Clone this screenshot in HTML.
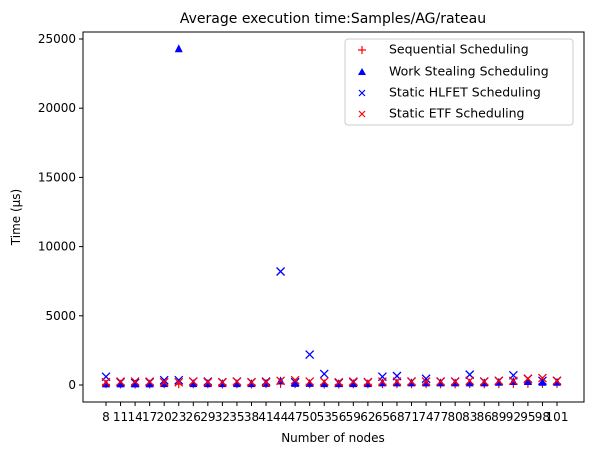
<!DOCTYPE html>
<html><head><meta charset="utf-8"><style>
body{margin:0;background:#fff;font-family:"Liberation Sans","DejaVu Sans",sans-serif;}
svg text{font-family:"DejaVu Sans","Liberation Sans",sans-serif;}
</style></head><body>
<svg id="chart" width="592" height="455" xmlns="http://www.w3.org/2000/svg">
<rect width="592" height="455" fill="#fff"/>
<text x="333" y="23" font-size="14" text-anchor="middle">Average execution time:Samples/AG/rateau</text>
<g id="marks"></g>
<rect x="83" y="32" width="501" height="370" fill="none" stroke="#000" stroke-width="1"/>
<g id="axes"></g>
<text x="333" y="442" font-size="12" text-anchor="middle">Number of nodes</text>
<text transform="translate(20,217) rotate(-90)" font-size="12" text-anchor="middle">Time (µs)</text>
<g>
<rect x="345" y="39" width="228" height="86" fill="#fff" fill-opacity="0.8" stroke="#ccc" rx="3"/>
<path d="M358,50 L366,50 M362,46 L362,54" stroke="red" stroke-width="1.2"/>
<text x="389" y="50" font-size="12.5" dominant-baseline="middle">Sequential Scheduling</text>
<polygon points="362,68 358,75 366,75" fill="blue"/>
<text x="389" y="72" font-size="12.5" dominant-baseline="middle">Work Stealing Scheduling</text>
<path d="M359,90 L365,96 M365,90 L359,96" stroke="blue" stroke-width="1.2"/>
<text x="389" y="93" font-size="12.5" dominant-baseline="middle">Static HLFET Scheduling</text>
<path d="M359,111 L365,117 M365,111 L359,117" stroke="red" stroke-width="1.2"/>
<text x="389" y="114" font-size="12.5" dominant-baseline="middle">Static ETF Scheduling</text>
</g>
</svg>
<script>
const categories=[8,11,14,17,20,23,26,29,32,35,38,41,44,47,50,53,56,59,62,65,68,71,74,77,80,83,86,89,92,95,98,101];
const sequential=[50,40,40,40,50,60,50,50,40,50,40,50,80,60,50,40,40,50,50,60,60,50,60,50,50,60,50,60,80,80,80,80];
const workStealing=[80,80,80,80,100,24300,100,100,100,100,100,120,300,120,120,100,100,100,100,150,150,150,150,150,150,150,150,200,250,250,200,200];
const hlfet=[600,200,150,200,350,350,250,250,200,250,200,250,8200,200,2200,800,150,200,200,600,650,250,450,250,250,750,250,300,700,450,300,300];
const etf=[200,250,250,250,200,200,250,200,200,250,200,200,300,350,250,250,200,250,200,250,250,250,250,250,250,300,250,300,300,450,500,300];
const yTicks=[0,5000,10000,15000,20000,25000];
const NS="http://www.w3.org/2000/svg";
const x=i=>106+i*(557-106)/(categories.length-1);
const y=v=>385-v*(385-39)/25000;
const marks=document.getElementById('marks'),axes=document.getElementById('axes');
function mk(t,a,p){const e=document.createElementNS(NS,t);for(const k in a)e.setAttribute(k,a[k]);p.appendChild(e);return e;}
yTicks.forEach(v=>{
 const l=mk('line',{x1:79,x2:83,y1:y(v),y2:y(v),stroke:'#000'},axes);
 
 
 const t=mk('text',{x:76,y:y(v)+4,'font-size':12,'text-anchor':'end'},axes);t.textContent=v;
 
 
});
categories.forEach((c,i)=>{
 const l=mk('line',{x1:x(i),x2:x(i),y1:402,y2:406,stroke:'#000'},axes);
 
 
 const t=mk('text',{x:x(i),y:421,'font-size':12,'text-anchor':'middle'},axes);t.textContent=c;
 
 
});
function cross(cx,cy,col,name){const g=mk('path',{d:`M${cx-4},${cy-4}L${cx+4},${cy+4}M${cx+4},${cy-4}L${cx-4},${cy+4}`,stroke:col,'stroke-width':1.3,fill:'none'},marks);
 
 }
categories.forEach((c,i)=>{
 const cx=x(i);
 let cy=y(sequential[i]);
 const p=mk('path',{d:`M${cx-4},${cy}L${cx+4},${cy}M${cx},${cy-4}L${cx},${cy+4}`,stroke:'red','stroke-width':1.2},marks);
 
 
 cy=y(workStealing[i]);
 const tr=mk('polygon',{points:`${cx},${cy-4.5} ${cx-4},${cy+3.5} ${cx+4},${cy+3.5}`,fill:'blue'},marks);
 
 
 cross(cx,y(hlfet[i]),'blue','hlfet-point');
 cross(cx,y(etf[i]),'red','etf-point');
});
</script>
</body></html>
